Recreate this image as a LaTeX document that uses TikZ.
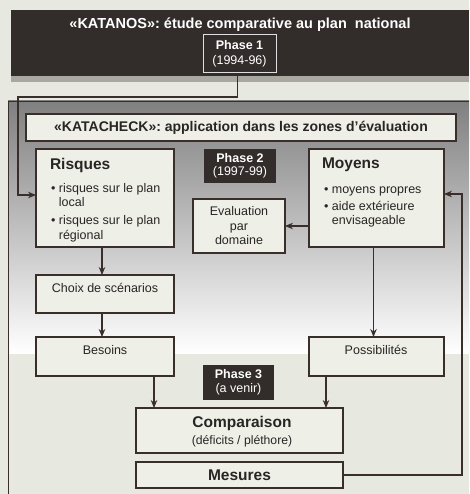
\documentclass[tikz,border=0pt]{standalone}
\usepackage{fontspec}
\setmainfont{Liberation Sans}
\usetikzlibrary{arrows.meta,calc}
\definecolor{paper}{RGB}{231,232,223}
\definecolor{ink}{RGB}{58,46,42}
\definecolor{darkband}{RGB}{50,44,42}
\definecolor{shade}{RGB}{190,190,184}
\definecolor{strip}{RGB}{168,168,160}
\definecolor{boxfill}{RGB}{238,239,231}
\definecolor{txtc}{RGB}{40,38,36}
\begin{document}
\begin{tikzpicture}[x=1pt,y=-1pt,
  box/.style={draw=ink,line width=1.2pt,fill=boxfill,inner sep=0pt,outer sep=0pt},
  phasebox/.style={fill=darkband,text=white,inner sep=0pt,outer sep=0pt,align=center,font=\fontsize{12.5}{13.5}\selectfont},
  arr/.style={draw=ink,line width=1.2pt,-{Stealth[length=8pt,width=6.5pt]}},
  lbl/.style={inner sep=0pt,outer sep=0pt,text=txtc,font=\fontsize{12.5}{14.5}\selectfont},
  head/.style={inner sep=0pt,outer sep=0pt,text=txtc,font=\bfseries\fontsize{15.5}{17}\selectfont}]
\fill[paper] (0,0) rectangle (469,494);
\useasboundingbox (0,0) rectangle (469,494);
% top band
\fill[darkband] (11,10) rectangle (469,76);
\fill[strip] (11,76) rectangle (469,82);
\node[inner sep=0pt,text=white,font=\bfseries\fontsize{14.5}{16}\selectfont] (t1) at (240,25)
  {«KATANOS»: étude comparative au plan\ \ national};
\node[phasebox,draw=white!85!darkband,line width=1pt,minimum width=73pt,minimum height=38pt,
  font=\fontsize{12.5}{15}\selectfont] (p1) at (239.5,54) {\textbf{Phase 1}\\(1994-96)};
% phase 2 region
\fill[shade] (8,101) rectangle (469,353);
\draw[ink,line width=0.8pt] (8,494) -- (8,101) -- (469,101);
\node[box,minimum width=430pt,minimum height=27pt,font=\bfseries\fontsize{14}{16}\selectfont,text=txtc] (kc) at (241,127.5)
  {«KATACHECK»: application dans les zones d'évaluation};
% Risques
\node[box,minimum width=138pt,minimum height=98pt] (risk) at (105,198) {};
\node[head,anchor=west] (riskt) at (50,165) {Risques};
\node[lbl,anchor=north west,align=left] (riskb) at (51,182)
  {\begin{tabular}{@{}l@{\hspace{3.5pt}}l@{}}•&risques sur le plan\\&local\\[3.5pt]•&risques sur le plan\\&régional\end{tabular}};
% Moyens
\node[box,minimum width=135pt,minimum height=98pt] (moy) at (376.5,198) {};
\node[head,anchor=west] (moyt) at (322,165) {Moyens};
\node[lbl,anchor=north west,align=left] (moyb) at (324,183)
  {\begin{tabular}{@{}l@{\hspace{3.5pt}}l@{}}•&moyens propres\\[2.5pt]•&aide extérieure\\&envisageable\end{tabular}};
% Phase 2
\node[phasebox,minimum width=72pt,minimum height=34pt] (p2) at (240,166) {\textbf{Phase 2}\\(1997-99)};
% Evaluation
\node[box,lbl,draw=ink,fill=boxfill,minimum width=92pt,minimum height=54pt,align=center,font=\fontsize{12.5}{14.5}\selectfont] (eval) at (239,226)
  {Evaluation\\par\\domaine};
% Choix
\node[box,minimum width=138pt,minimum height=38pt] (choix) at (105,294) {};
\node[lbl] (choixt) at (105,288) {Choix de scénarios};
% Besoins, Possibilites
\node[box,minimum width=138pt,minimum height=39pt] (bes) at (105,356.5) {};
\node[lbl] (best) at (105,350) {Besoins};
\node[box,minimum width=135pt,minimum height=39pt] (poss) at (376.5,356.5) {};
\node[lbl] (posst) at (376,350) {Possibilités};
% Phase 3
\node[phasebox,minimum width=71pt,minimum height=35pt,font=\fontsize{12.5}{14}\selectfont] (p3) at (238.5,382.5) {\textbf{Phase 3}\\(a venir)};
% Comparaison, Mesures
\node[box,minimum width=207pt,minimum height=45pt] (comp) at (239.5,430.5) {};
\node[head] (compt) at (242,423) {Comparaison};
\node[lbl,font=\fontsize{12.2}{13}\selectfont] (comps) at (242,441) {(déficits / pléthore)};
\node[box,minimum width=207pt,minimum height=26pt,head] (mes) at (239.5,475) {Mesures};
% connectors
\coordinate (c1) at (18,97);
\coordinate (c3) at (154,0);
\coordinate (c4) at (326,0);
\coordinate (c5) at (462,194);
\draw[arr] ([xshift=-2pt]p1.south) |- (c1) |- ([yshift=3pt]risk.west);
\draw[arr] (eval.east -| moy.west) -- (eval.east);
\draw[arr] ([xshift=-3pt]risk.south) -- ([xshift=-3pt]choix.north);
\draw[arr] ([xshift=-3pt]choix.south) -- ([xshift=-3pt]bes.north);
\draw[arr] ([xshift=-3pt]moy.south) -- ([xshift=-3pt]poss.north);
\draw[arr] (bes.south -| c3) -- (comp.north -| c3);
\draw[arr] (poss.south -| c4) -- (comp.north -| c4);
\draw[arr] (mes.east) -| (c5) -- (moy.east |- c5);
\end{tikzpicture}
\end{document}
